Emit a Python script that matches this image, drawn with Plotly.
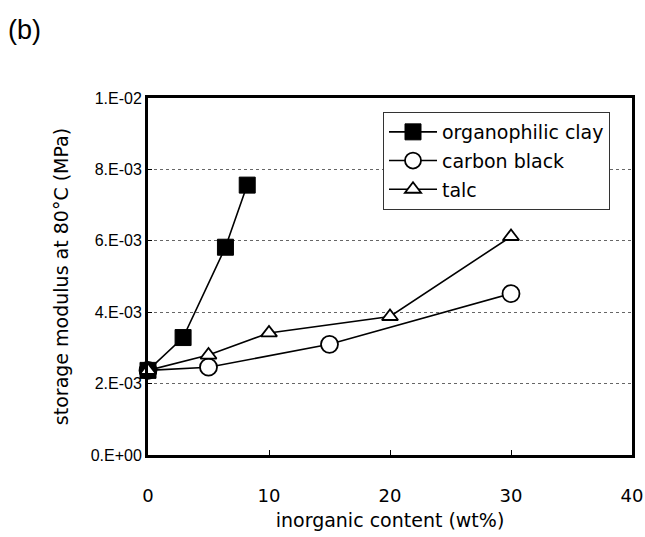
import plotly.graph_objects as go

# Storage modulus at 80 °C versus filler loading
clay_x = [0, 2.9, 6.4, 8.2]
clay_y = [2.37e-3, 3.29e-3, 5.82e-3, 7.56e-3]

carbon_x = [0, 5, 15, 30]
carbon_y = [2.37e-3, 2.46e-3, 3.10e-3, 4.52e-3]

talc_x = [0, 5, 10, 20, 30]
talc_y = [2.37e-3, 2.80e-3, 3.42e-3, 3.88e-3, 6.12e-3]

y_ticks = [0, 2e-3, 4e-3, 6e-3, 8e-3, 1e-2]
y_tick_text = ["0.E+00", "2.E-03", "4.E-03", "6.E-03", "8.E-03", "1.E-02"]
x_ticks = [0, 10, 20, 30, 40]

FONT = "DejaVu Sans"
NUM_FONT = "Liberation Sans"

fig = go.Figure()

fig.add_trace(go.Scatter(
    x=carbon_x, y=carbon_y, name="carbon black", mode="lines+markers",
    legendrank=2, legendgroup="b",
    line=dict(color="black", width=1.6),
    marker=dict(symbol="circle", size=17, color="white",
                line=dict(color="black", width=1.8)),
    cliponaxis=False,
))
fig.add_trace(go.Scatter(
    x=clay_x, y=clay_y, name="organophilic clay", mode="lines+markers",
    legendrank=1, legendgroup="a",
    line=dict(color="black", width=1.6),
    marker=dict(symbol="square", size=16, color="black",
                line=dict(color="black", width=1)),
    cliponaxis=False,
))
fig.add_trace(go.Scatter(
    x=talc_x, y=talc_y, name="talc", mode="lines+markers",
    legendrank=3, legendgroup="c",
    line=dict(color="black", width=1.6),
    marker=dict(symbol="triangle-up", size=14, color="white",
                line=dict(color="black", width=1.8)),
    cliponaxis=False,
))

W, H = 645, 537
ML, MR, MT, MB = 148, 13, 98, 82
PW, PH = W - ML - MR, H - MT - MB

fig.update_layout(
    width=W, height=H,
    margin=dict(l=ML, r=MR, t=MT, b=MB, autoexpand=False),
    paper_bgcolor="white", plot_bgcolor="white",
    font=dict(family=FONT, color="black"),
    showlegend=True,
    legend=dict(
        x=(383 - ML) / PW, y=1 - (112 - MT) / PH,
        xanchor="left", yanchor="top",
        bgcolor="white", bordercolor="#333", borderwidth=1,
        font=dict(family=FONT, size=19),
        tracegroupgap=1, itemwidth=48,
    ),
    xaxis=dict(
        range=[0, 40], tickvals=x_ticks, ticks="inside", ticklen=5,
        tickwidth=1, tickcolor="black", automargin=False,
        showline=True, linecolor="black", linewidth=3, mirror=True,
        showgrid=False, zeroline=False,
        tickfont=dict(family=FONT, size=18),
        ticklabelstandoff=22,
        title=dict(text="inorganic content (wt%)",
                   font=dict(family=FONT, size=19), standoff=10),
    ),
    yaxis=dict(
        range=[0, 0.01], tickvals=y_ticks, ticktext=y_tick_text,
        ticks="inside", ticklen=4, tickwidth=1, tickcolor="black",
        automargin=False,
        showline=True, linecolor="black", linewidth=3, mirror=True,
        showgrid=True, gridcolor="#666", griddash="dot", gridwidth=1,
        zeroline=False,
        tickfont=dict(family=NUM_FONT, size=16),
        title=dict(text="storage modulus at 80°C (MPa)",
                   font=dict(family=FONT, size=19), standoff=17),
    ),
    annotations=[dict(
        text="(b)", xref="paper", yref="paper",
        x=(6 - ML) / PW, xanchor="left",
        y=1 + (MT - 30) / PH, yanchor="middle",
        showarrow=False, font=dict(family=NUM_FONT, size=27),
    )],
)

fig.write_html("out.html")
